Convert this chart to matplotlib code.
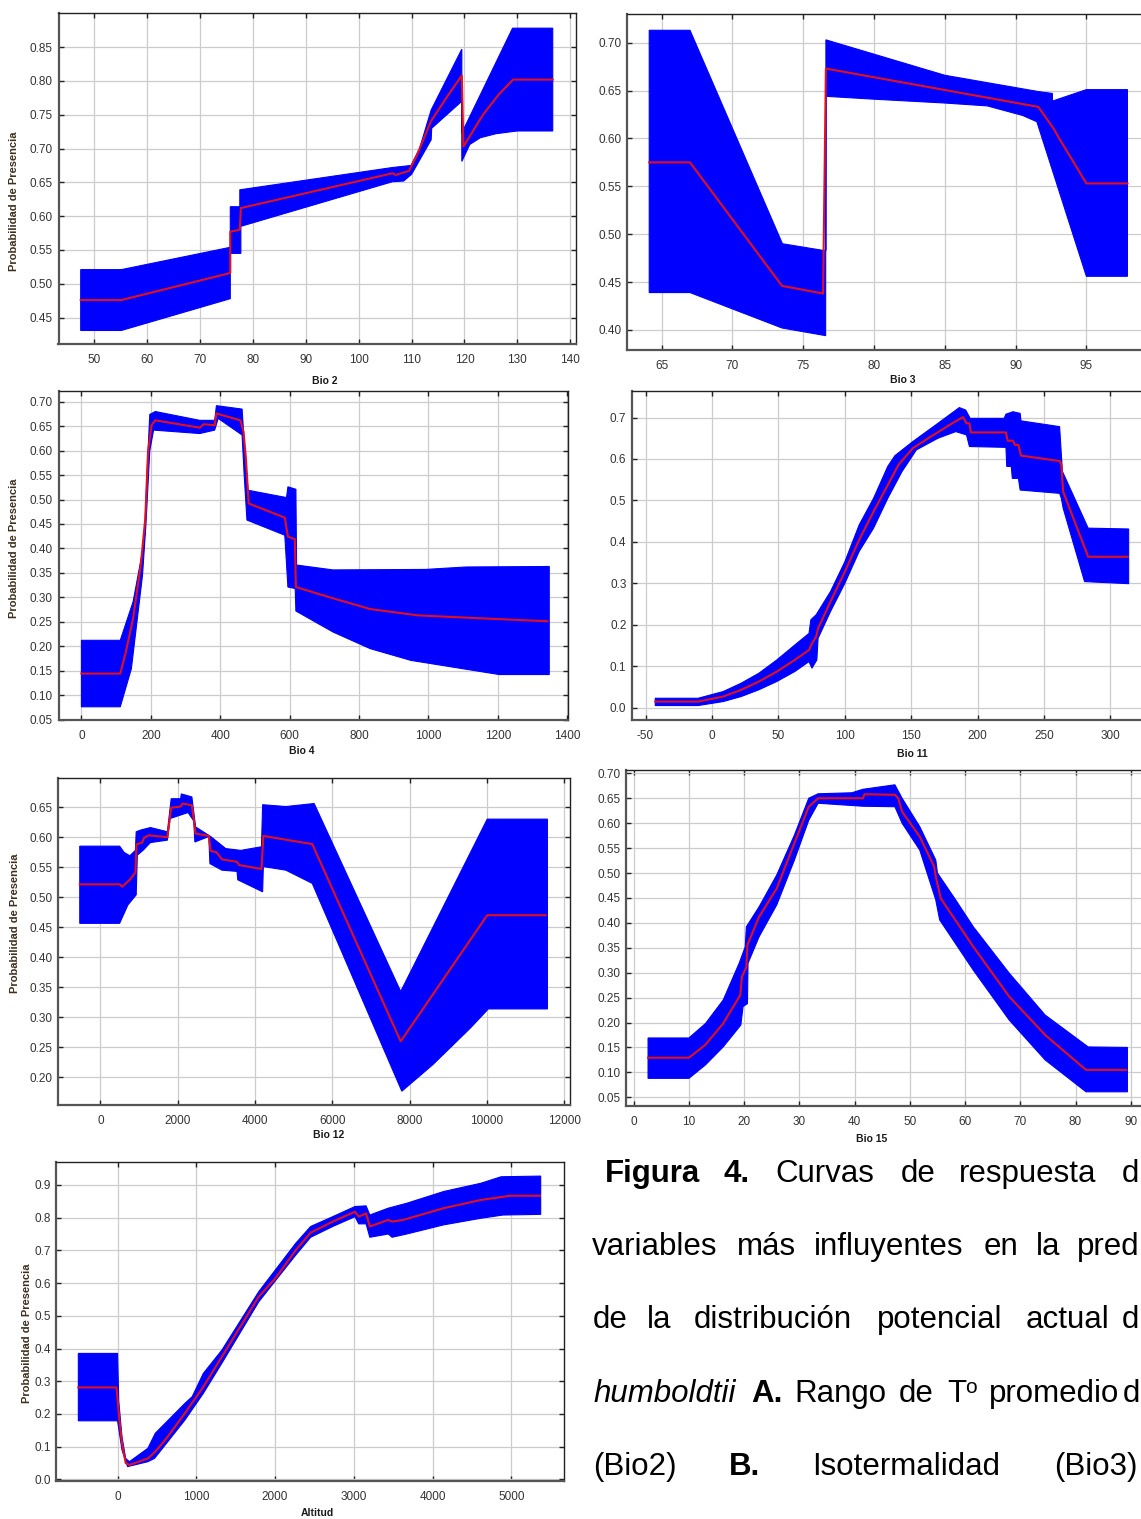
import numpy as np
import matplotlib
matplotlib.use('Agg')
import matplotlib.pyplot as plt
from matplotlib.ticker import FormatStrFormatter

plt.rcParams['font.family'] = ['Liberation Sans', 'DejaVu Sans']
plt.rcParams['axes.unicode_minus'] = False

W, H = 1141, 1519

# ---- Bio 2 ----
bio2_up_x = [47.4, 55.1, 75.7, 75.7, 77.5, 77.5, 106.4, 109.9, 111.5, 113.7, 119.5, 119.5, 129.1, 136.7]
bio2_up_y = [0.521, 0.521, 0.554, 0.614, 0.614, 0.639, 0.672, 0.675, 0.700, 0.757, 0.847, 0.723, 0.878, 0.878]
bio2_lo_x = [47.4, 55.1, 75.7, 75.7, 77.7, 77.7, 106.4, 108.5, 110.0, 113.7, 113.8, 119.5, 119.5, 121, 123, 126, 130, 136.7]
bio2_lo_y = [0.431, 0.431, 0.478, 0.545, 0.545, 0.585, 0.651, 0.652, 0.662, 0.713, 0.730, 0.770, 0.681, 0.706, 0.716, 0.722, 0.726, 0.726]
bio2_mid_x = [47.4, 55.1, 75.7, 75.7, 77.5, 77.7, 106.4, 107, 109.5, 111, 113.7, 117, 119.5, 119.8, 123.5, 126.5, 129.2, 136.7]
bio2_mid_y = [0.476, 0.476, 0.516, 0.577, 0.580, 0.612, 0.6635, 0.661, 0.667, 0.690, 0.741, 0.780, 0.808, 0.703, 0.750, 0.780, 0.802, 0.802]

# ---- Bio 3 ----
bio3_up_x = [64.12, 67.0, 73.53, 76.43, 76.6, 76.6, 85.0, 91.6, 92.6, 92.6, 95.0, 97.9]
bio3_up_y = [0.713, 0.713, 0.490, 0.483, 0.483, 0.703, 0.666, 0.649, 0.647, 0.639, 0.651, 0.651]
bio3_lo_x = [64.12, 67.0, 73.5, 76.58, 76.6, 80, 85, 88, 90.5, 91.5, 95.0, 97.9]
bio3_lo_y = [0.439, 0.439, 0.402, 0.394, 0.644, 0.641, 0.637, 0.634, 0.624, 0.6175, 0.456, 0.456]
bio3_mid_x = [64.12, 67.0, 73.5, 76.4, 76.6, 91.6, 92.7, 93.0, 95.0, 97.9]
bio3_mid_y = [0.575, 0.575, 0.446, 0.438, 0.673, 0.633, 0.610, 0.602, 0.553, 0.553]

# ---- Bio 4 ----
bio4_up_x = [0, 112, 149, 181, 192, 197, 213, 341, 384, 389, 463, 469, 480, 591, 595, 618, 620, 725, 991, 1108, 1348]
bio4_up_y = [0.212, 0.212, 0.291, 0.413, 0.600, 0.674, 0.680, 0.662, 0.662, 0.692, 0.685, 0.618, 0.519, 0.504, 0.526, 0.521, 0.366, 0.356, 0.357, 0.362, 0.363]
bio4_lo_x = [0, 112, 144, 176, 186, 197, 208, 341, 384, 394, 463, 469, 477, 586, 595, 616, 618, 725, 832, 949, 1098, 1204, 1348]
bio4_lo_y = [0.076, 0.076, 0.154, 0.345, 0.45, 0.60, 0.642, 0.635, 0.642, 0.666, 0.632, 0.550, 0.458, 0.427, 0.321, 0.318, 0.272, 0.229, 0.195, 0.171, 0.154, 0.142, 0.142]
bio4_mid_x = [0, 112, 128, 149, 171, 184, 192, 202, 213, 341, 352, 384, 389, 458, 467, 474, 482, 586, 595, 615, 618, 725, 832, 970, 1151, 1343]
bio4_mid_y = [0.144, 0.144, 0.188, 0.257, 0.366, 0.461, 0.598, 0.652, 0.662, 0.647, 0.654, 0.652, 0.676, 0.662, 0.639, 0.584, 0.492, 0.463, 0.424, 0.419, 0.321, 0.298, 0.276, 0.263, 0.257, 0.251]

# ---- Bio 11 ----
bio11_up_x = [-42.7, -10.4, 8.5, 22, 35.4, 48.9, 62.4, 73.1, 74.5, 78.5, 89.3, 100.1, 110.9, 121.7, 132.4, 137.8, 151.3, 170.2, 186.3, 191.1, 194.4, 220, 221.4, 226.7, 232.1, 232.7, 261.8, 263.9, 283.3, 313.8]
bio11_up_y = [0.0225, 0.0225, 0.0386, 0.0588, 0.083, 0.115, 0.151, 0.179, 0.212, 0.224, 0.28, 0.352, 0.441, 0.505, 0.582, 0.608, 0.642, 0.686, 0.724, 0.718, 0.698, 0.698, 0.708, 0.714, 0.710, 0.692, 0.678, 0.570, 0.433, 0.431]
bio11_lo_x = [-42.7, -10.4, 8.5, 22, 35.4, 48.9, 62.4, 73.1, 75.3, 79, 79.9, 89.3, 100.1, 110.9, 121.7, 132.4, 143.2, 154, 170.2, 183.6, 191.7, 193.9, 221.4, 222, 225.4, 226.2, 230.8, 232.1, 261.8, 263.1, 264.5, 280.6, 313.8]
bio11_lo_y = [0.0049, 0.0049, 0.0145, 0.0266, 0.043, 0.063, 0.087, 0.111, 0.095, 0.115, 0.167, 0.232, 0.300, 0.377, 0.433, 0.505, 0.570, 0.622, 0.650, 0.666, 0.658, 0.630, 0.628, 0.582, 0.582, 0.553, 0.553, 0.525, 0.517, 0.505, 0.481, 0.304, 0.299]
bio11_mid_x = [-42.7, -10.4, 8.5, 22, 35.4, 48.9, 62.4, 73.1, 75.3, 78.5, 79.9, 89.3, 100.1, 110.9, 121.7, 132.4, 140.5, 151.3, 164.8, 180.9, 189, 191.7, 193.9, 195, 221.4, 222.7, 226.7, 228.1, 230.8, 232.7, 261.8, 263.1, 264.5, 283.3, 313]
bio11_mid_y = [0.0145, 0.0145, 0.0266, 0.0427, 0.0628, 0.087, 0.115, 0.139, 0.155, 0.171, 0.191, 0.256, 0.328, 0.405, 0.473, 0.537, 0.586, 0.626, 0.654, 0.686, 0.701, 0.686, 0.686, 0.664, 0.664, 0.644, 0.644, 0.634, 0.634, 0.608, 0.595, 0.586, 0.521, 0.364, 0.364]

# ---- Bio 12 ----
bio12_up_x = [-535, 496, 613, 759, 905, 925, 1051, 1294, 1732, 1830, 2073, 2092, 2365, 2462, 2852, 3241, 3631, 4165, 4195, 4798, 5528, 7767, 10005, 11562]
bio12_up_y = [0.585, 0.585, 0.5746, 0.569, 0.578, 0.609, 0.612, 0.616, 0.609, 0.664, 0.664, 0.672, 0.667, 0.617, 0.601, 0.581, 0.578, 0.584, 0.654, 0.651, 0.656, 0.343, 0.630, 0.630]
bio12_lo_x = [-535, 496, 710, 925, 954, 1100, 1294, 1732, 1800, 2268, 2414, 2443, 2803, 2832, 3144, 3533, 3553, 4195, 4214, 4798, 5479, 7796, 8595, 9567, 10034, 11562]
bio12_lo_y = [0.4565, 0.4565, 0.487, 0.504, 0.570, 0.578, 0.591, 0.595, 0.631, 0.641, 0.627, 0.592, 0.601, 0.556, 0.545, 0.543, 0.529, 0.509, 0.551, 0.545, 0.523, 0.177, 0.221, 0.282, 0.314, 0.314]
bio12_mid_x = [-535, 496, 564, 759, 905, 934, 1080, 1129, 1246, 1732, 1830, 2073, 2122, 2365, 2462, 2803, 2852, 2998, 3144, 3533, 3591, 4165, 4214, 5479, 7767, 10005, 11514]
bio12_mid_y = [0.5214, 0.5214, 0.5175, 0.529, 0.5414, 0.588, 0.591, 0.599, 0.603, 0.600, 0.649, 0.651, 0.656, 0.653, 0.606, 0.602, 0.577, 0.575, 0.563, 0.559, 0.5535, 0.547, 0.602, 0.5885, 0.260, 0.470, 0.470]

# ---- Bio 15 ----
bio15_up_x = [2.6, 10.0, 13.0, 16.2, 19.1, 20.2, 20.4, 22.7, 25.9, 29.1, 31.7, 33.4, 39.5, 41.5, 47.3, 48.6, 51.8, 54.7, 55.0, 58.3, 61.5, 68.0, 74.5, 82.3, 89.4]
bio15_up_y = [0.169, 0.169, 0.198, 0.245, 0.319, 0.352, 0.392, 0.432, 0.496, 0.576, 0.650, 0.659, 0.661, 0.668, 0.677, 0.650, 0.593, 0.526, 0.500, 0.446, 0.392, 0.299, 0.215, 0.151, 0.150]
bio15_lo_x = [2.6, 10.0, 13.0, 16.2, 19.4, 19.8, 20.6, 20.7, 22.7, 25.9, 29.1, 31.7, 33.4, 41.5, 47.3, 48.6, 51.8, 54.7, 55.4, 61.5, 68.0, 74.5, 81.9, 89.4]
bio15_lo_y = [0.088, 0.088, 0.115, 0.151, 0.195, 0.232, 0.238, 0.319, 0.372, 0.436, 0.526, 0.606, 0.640, 0.634, 0.633, 0.600, 0.546, 0.446, 0.406, 0.305, 0.205, 0.125, 0.061, 0.061]
bio15_mid_x = [2.6, 10.0, 12.95, 16.2, 19.3, 19.6, 20.4, 20.6, 22.7, 25.9, 29.1, 31.7, 33.4, 41.5, 41.8, 47.3, 47.9, 48.6, 51.8, 54.4, 54.7, 55.6, 61.5, 68.0, 74.5, 81.9, 89.2]
bio15_mid_y = [0.1294, 0.1294, 0.155, 0.198, 0.255, 0.292, 0.311, 0.356, 0.412, 0.469, 0.560, 0.633, 0.650, 0.650, 0.658, 0.657, 0.650, 0.623, 0.573, 0.513, 0.493, 0.449, 0.352, 0.252, 0.175, 0.105, 0.105]

# ---- Altitud ----
alt_up_x = [-498, 0, 15, 56, 103, 150, 385, 479, 854, 948, 1089, 1324, 1793, 2263, 2451, 2732, 3014, 3155, 3202, 3437, 3671, 4141, 4610, 4869, 5371]
alt_up_y = [0.385, 0.385, 0.24, 0.13, 0.064, 0.054, 0.095, 0.141, 0.232, 0.253, 0.324, 0.395, 0.574, 0.722, 0.773, 0.803, 0.834, 0.836, 0.808, 0.829, 0.844, 0.880, 0.905, 0.925, 0.927]
alt_lo_x = [-498, 0, 56, 127, 385, 469, 854, 1089, 1324, 1793, 2263, 2451, 2732, 3014, 3061, 3155, 3202, 3437, 3484, 3671, 4141, 4610, 4892, 5371]
alt_lo_y = [0.179, 0.179, 0.09, 0.039, 0.054, 0.064, 0.181, 0.263, 0.355, 0.543, 0.686, 0.74, 0.773, 0.803, 0.781, 0.781, 0.74, 0.75, 0.74, 0.75, 0.778, 0.798, 0.808, 0.81]
alt_mid_x = [-498, -14, 19, 56, 103, 150, 385, 479, 620, 854, 1089, 1324, 1793, 2005, 2263, 2451, 2732, 3014, 3061, 3155, 3202, 3437, 3484, 3624, 4141, 4610, 4986, 5362]
alt_mid_y = [0.281, 0.281, 0.192, 0.110, 0.050, 0.044, 0.064, 0.085, 0.125, 0.202, 0.283, 0.375, 0.559, 0.615, 0.701, 0.754, 0.788, 0.818, 0.803, 0.813, 0.773, 0.793, 0.788, 0.793, 0.829, 0.854, 0.867, 0.867]

YLAB = 'Probabilidad de Presencia'
xlabels = ['Bio 2', 'Bio 3', 'Bio 4', 'Bio 11', 'Bio 12', 'Bio 15', 'Altitud']

fig = plt.figure(figsize=(W / 100, H / 100), dpi=100)


def px_ax(l, t, r, b):
    return fig.add_axes([l / W, 1 - b / H, (r - l) / W, (b - t) / H])


def px_text(x, y, s, **kw):
    return fig.text(x / W, 1 - y / H, s, **kw)


def panel(box, ux, uy, lx, ly, mx, my, xlim, ylim, xticks, yticks, yfmt):
    ax = px_ax(*box)
    ax.set_axisbelow(True)
    ax.grid(True, color='#cccccc', lw=0.9)
    ax.fill(np.r_[ux, lx[::-1]], np.r_[uy, ly[::-1]], color='#0000ff', lw=0.8, ec='#0000ff')
    ax.plot(mx, my, color='#e3101c', lw=1.5)
    ax.set_xlim(*xlim)
    ax.set_ylim(*ylim)
    ax.set_xticks(xticks)
    ax.set_yticks(yticks)
    ax.yaxis.set_major_formatter(FormatStrFormatter(yfmt))
    ax.tick_params(direction='in', length=3.5, width=1, color='#222222',
                   labelcolor='#333333', labelsize=8.5, top=True, right=True)
    ax.tick_params(axis='x', pad=7)
    ax.tick_params(axis='y', pad=4)
    for s in ['left', 'bottom']:
        ax.spines[s].set_color('#555555')
        ax.spines[s].set_linewidth(1.6)
    for s in ['top', 'right']:
        ax.spines[s].set_color('#222222')
        ax.spines[s].set_linewidth(1.0)
    return ax


panel((58.5, 13.3, 576, 344), bio2_up_x, bio2_up_y, bio2_lo_x, bio2_lo_y, bio2_mid_x, bio2_mid_y,
      (43.2, 141.1), (0.411, 0.900), np.arange(50, 141, 10), np.arange(0.45, 0.86, 0.05), '%.2f')
panel((627, 14, 1160, 350), bio3_up_x, bio3_up_y, bio3_lo_x, bio3_lo_y, bio3_mid_x, bio3_mid_y,
      (62.55, 100.2), (0.379, 0.730), np.arange(65, 96, 5), np.arange(0.40, 0.71, 0.05), '%.2f')
panel((58.5, 391, 568, 720), bio4_up_x, bio4_up_y, bio4_lo_x, bio4_lo_y, bio4_mid_x, bio4_mid_y,
      (-66, 1402), (0.049, 0.722), np.arange(0, 1401, 200), np.arange(0.05, 0.71, 0.05), '%.2f')
panel((632, 391, 1160, 720), bio11_up_x, bio11_up_y, bio11_lo_x, bio11_lo_y, bio11_mid_x, bio11_mid_y,
      (-60.2, 337.4), (-0.030, 0.764), np.arange(-50, 301, 50), np.arange(0.0, 0.71, 0.1), '%.1f')
panel((58.3, 778.3, 570, 1105), bio12_up_x, bio12_up_y, bio12_lo_x, bio12_lo_y, bio12_mid_x, bio12_mid_y,
      (-1090, 12146), (0.154, 0.698), np.arange(0, 12001, 2000), np.arange(0.20, 0.66, 0.05), '%.2f')
panel((625.8, 770, 1160, 1106), bio15_up_x, bio15_up_y, bio15_lo_x, bio15_lo_y, bio15_mid_x, bio15_mid_y,
      (-1.43, 95.3), (0.0325, 0.7067), np.arange(0, 91, 10), np.arange(0.05, 0.71, 0.05), '%.2f')
panel((56.2, 1161.7, 564, 1481), alt_up_x, alt_up_y, alt_lo_x, alt_lo_y, alt_mid_x, alt_mid_y,
      (-779, 5667), (-0.005, 0.971), np.arange(0, 5001, 1000), np.arange(0.0, 0.91, 0.1), '%.1f')

# axis labels
xlab_pos = [(325, 381.5), (903, 380), (301.5, 751.5), (912.5, 754), (329, 1135.5), (871.5, 1139), (317.5, 1513)]
for (x, y), s in zip(xlab_pos, xlabels):
    px_text(x, y, s, fontsize=7.5, fontweight='bold', color='#1a1a1a', ha='center', va='center')

ylab_pos = [(14.5, 201), (14.5, 548), (15, 923), (27, 1333)]
for x, y in ylab_pos:
    px_text(x, y, YLAB, rotation=90, fontsize=8, fontweight='bold', color='#3c2f1c', ha='center', va='center')

# caption: justified lines, words placed one by one; the block is cut by the right edge
cap = dict(fontsize=22.5, family=['Liberation Sans', 'DejaVu Sans'], color='black', va='baseline', ha='left')
caption_words = [
    (1182, [(605, 'Figura', 'bold', 'normal'), (724, '4.', 'bold', 'normal'), (775.5, 'Curvas', 'normal', 'normal'),
            (900.5, 'de', 'normal', 'normal'), (959, 'respuesta', 'normal', 'normal'), (1122, 'd', 'normal', 'normal')]),
    (1255, [(592, 'variables', 'normal', 'normal'), (737, 'más', 'normal', 'normal'),
            (814, 'influyentes', 'normal', 'normal'), (984, 'en', 'normal', 'normal'),
            (1036, 'la', 'normal', 'normal'), (1077, 'pred', 'normal', 'normal')]),
    (1328, [(593, 'de', 'normal', 'normal'), (647, 'la', 'normal', 'normal'),
            (694, 'distribución', 'normal', 'normal'), (877, 'potencial', 'normal', 'normal'),
            (1026, 'actual', 'normal', 'normal'), (1122, 'd', 'normal', 'normal')]),
    (1402, [(593, 'humboldtii', 'normal', 'italic'), (751, 'A.', 'bold', 'normal'),
            (794, 'Rango', 'normal', 'normal'), (899, 'de', 'normal', 'normal'), (947, 'T', 'normal', 'normal'),
            (989, 'promedio', 'normal', 'normal'), (1123, 'd', 'normal', 'normal')]),
    (1475, [(593, '(Bio2)', 'normal', 'normal'), (729, 'B.', 'bold', 'normal'),
            (812, 'Isotermalidad', 'normal', 'normal'), (1054, '(Bio3)', 'normal', 'normal')]),
]
for y, words in caption_words:
    for x, s, w, st in words:
        px_text(x, y, s, fontweight=w, fontstyle=st, **cap)
# superscript "o" after T
px_text(965.5, 1393, 'o', fontsize=15, family=['Liberation Sans', 'DejaVu Sans'], color='black',
        va='baseline', ha='left')

fig.savefig('out.png', dpi=100)
